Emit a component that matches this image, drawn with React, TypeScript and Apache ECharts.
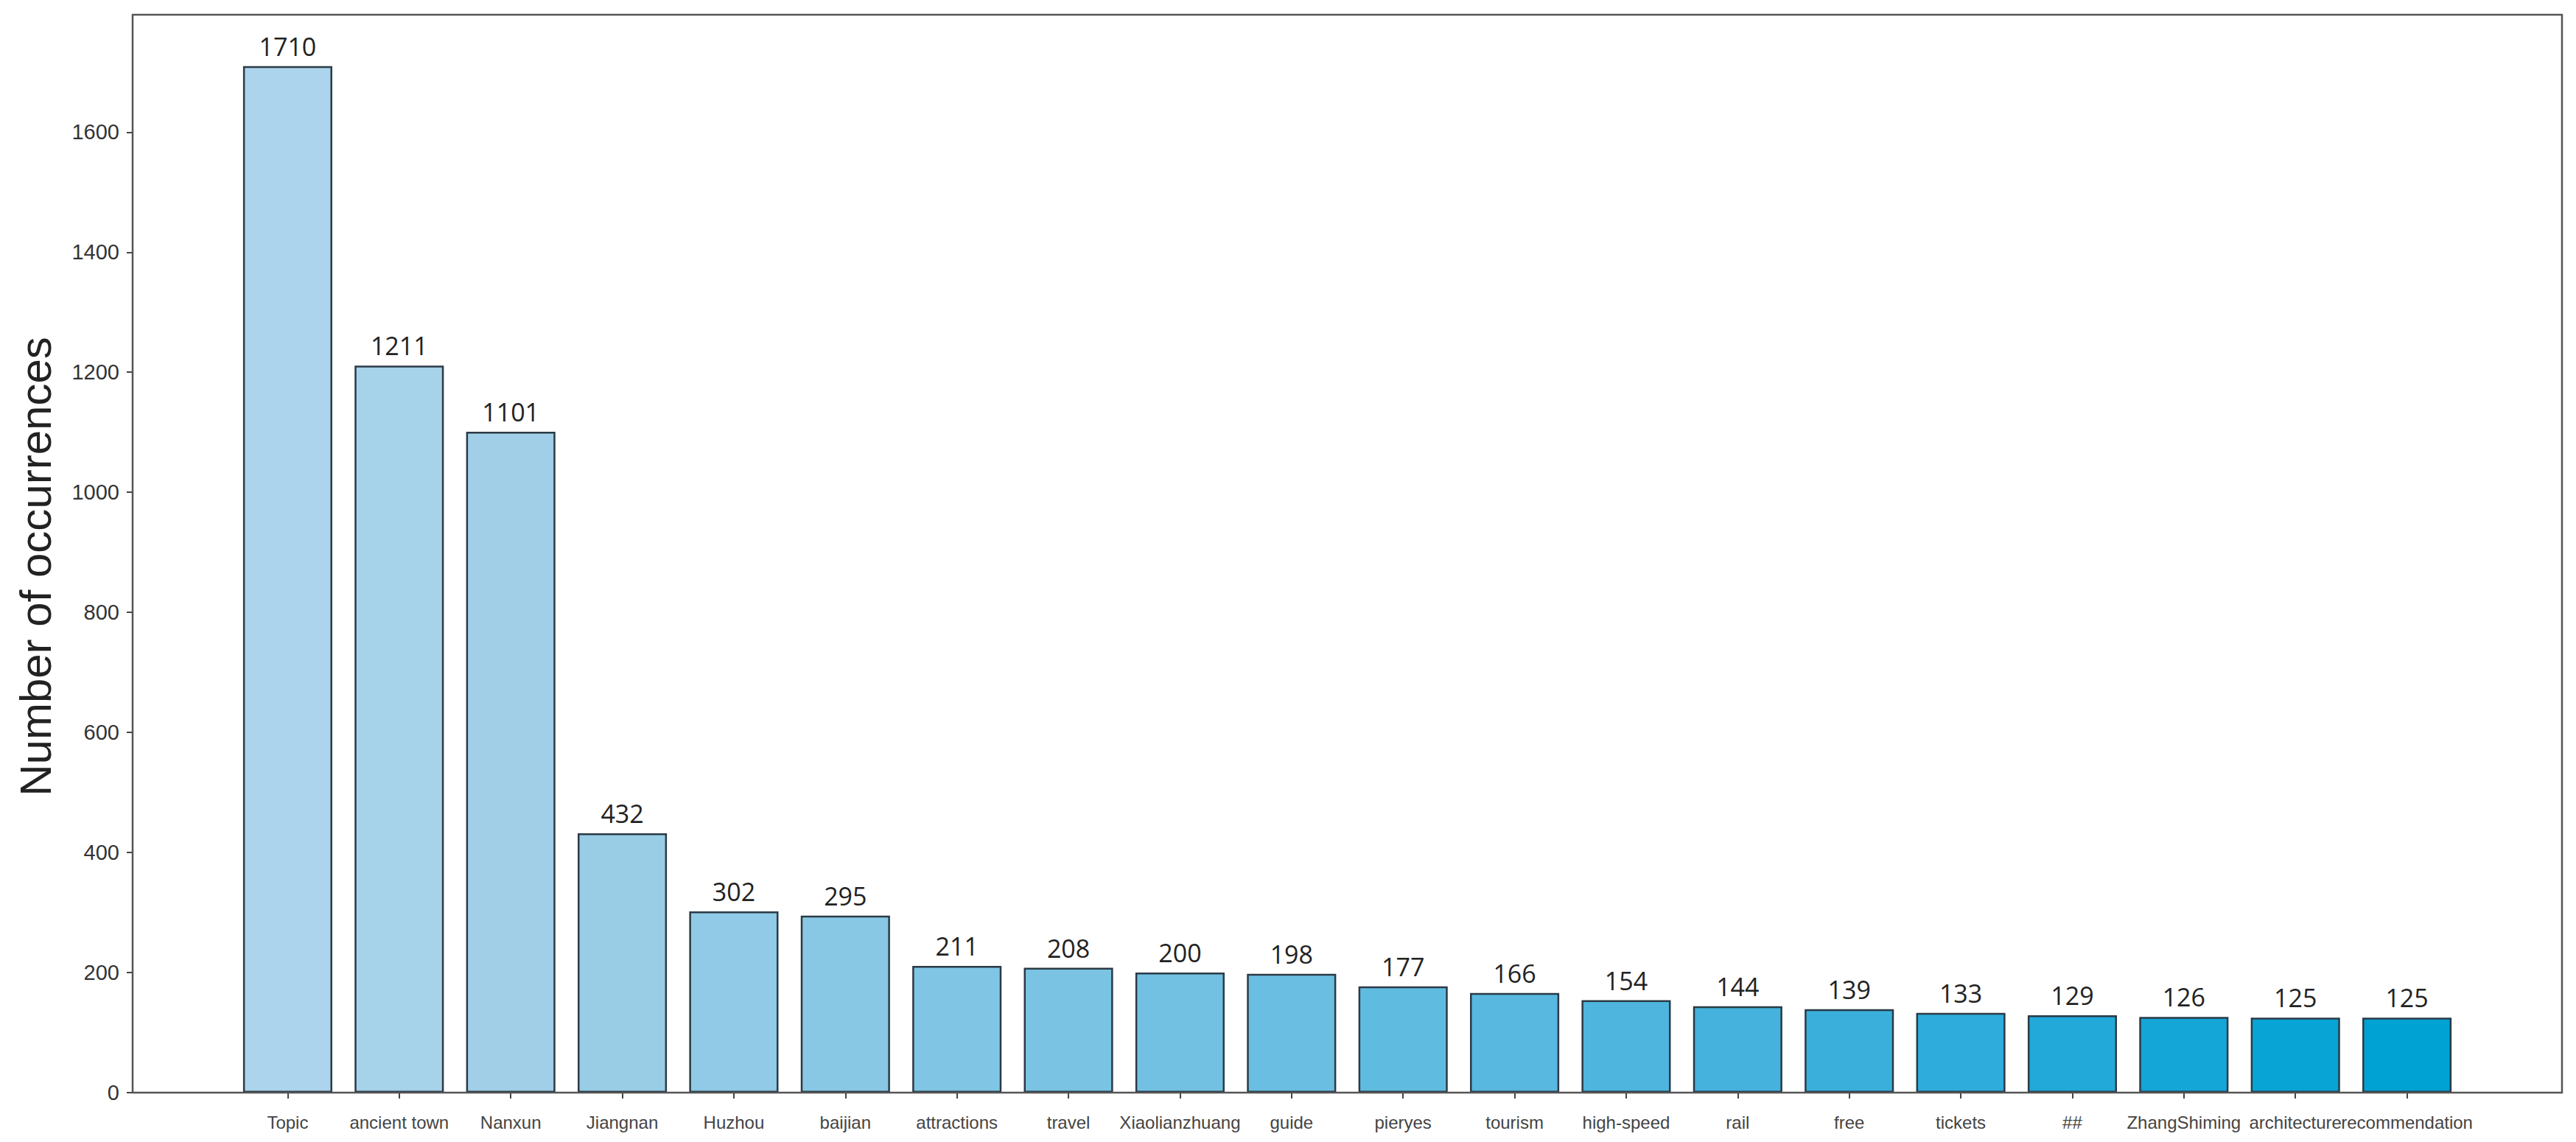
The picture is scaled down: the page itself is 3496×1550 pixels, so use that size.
import React, { useEffect, useRef } from "react";
import * as echarts from "echarts";

const categories = [
  "Topic", "ancient town", "Nanxun", "Jiangnan", "Huzhou", "baijian", "attractions",
  "travel", "Xiaolianzhuang", "guide", "pieryes", "tourism", "high-speed", "rail",
  "free", "tickets", "##", "ZhangShiming", "architecture", "recommendation",
];
const counts = [1710, 1211, 1101, 432, 302, 295, 211, 208, 200, 198, 177, 166, 154, 144, 139, 133, 129, 126, 125, 125];
const barColors = [
  "#acd4ec", "#a6d2ea", "#a0cfe7", "#98cde5", "#90cae6", "#88c8e5", "#80c5e4",
  "#7ac3e3", "#72c1e2", "#6abee1", "#60bbe0", "#58b8df", "#4db5de", "#44b2dd",
  "#3aafdc", "#2eacdb", "#22a9da", "#15a6d8", "#08a4d6", "#00a2d4",
];
const yTicks = [0, 200, 400, 600, 800, 1000, 1200, 1400, 1600];
const yTitle = "Number of occurrences";
const yMax = 1795.5;

// layout (pixels)
const W = 3496;
const H = 1550;
const frameLeft = 180;
const frameRight = 3477;
const frameTop = 20;
const frameBottom = 1483;
// matplotlib-like x limits around the bar slots
const xLo = -1.39;
const xHi = 20.39;
const unit = (frameRight - frameLeft) / (xHi - xLo);
const catLeft = frameLeft + (-0.5 - xLo) * unit;
const catRight = frameLeft + (categories.length - 0.5 - xLo) * unit;

export default function App() {
  const ref = useRef<HTMLDivElement>(null);
  useEffect(() => {
    if (!ref.current) return;
    const chart = echarts.init(ref.current, undefined, { renderer: "svg" });
    const tickStyle = { color: "#444", width: 2 };
    chart.setOption({
      animation: false,
      backgroundColor: "#ffffff",
      grid: [
        {
          left: frameLeft,
          top: frameTop,
          width: frameRight - frameLeft,
          height: frameBottom - frameTop,
          show: true,
          borderColor: "#555",
          borderWidth: 2.5,
          backgroundColor: "transparent",
          z: 3,
        },
        {
          left: catLeft,
          top: frameTop,
          width: catRight - catLeft,
          height: frameBottom - frameTop,
        },
      ],
      xAxis: [
        { gridIndex: 0, type: "value", min: 0, max: 1, show: false },
        {
          gridIndex: 1,
          type: "category",
          data: categories,
          axisLine: { show: false },
          axisTick: { show: true, alignWithLabel: true, length: 8, lineStyle: tickStyle },
          axisLabel: {
            interval: 0,
            margin: 28,
            fontSize: 24,
            fontFamily: "Liberation Sans",
            color: "#444",
          },
          splitLine: { show: false },
        },
      ],
      yAxis: [
        {
          gridIndex: 0,
          type: "value",
          min: 0,
          max: yMax,
          axisLine: { show: false },
          splitLine: { show: false },
          axisTick: { show: true, length: 8, customValues: yTicks, lineStyle: tickStyle },
          axisLabel: {
            customValues: yTicks,
            formatter: (v: number) => String(v),
            margin: 18,
            fontSize: 29,
            fontFamily: "Liberation Sans",
            color: "#333",
          },
        },
        { gridIndex: 1, type: "value", min: 0, max: yMax, show: false },
      ],
      graphic: [
        {
          type: "text",
          x: 48,
          y: 769,
          rotation: Math.PI / 2,
          style: {
            text: yTitle,
            fontSize: 60,
            fontFamily: "Liberation Sans",
            fill: "#222",
            align: "center",
            verticalAlign: "middle",
            textAlign: "center",
            textVerticalAlign: "middle",
          },
        },
      ],
      series: [
        {
          type: "bar",
          xAxisIndex: 1,
          yAxisIndex: 1,
          barWidth: "80%",
          data: counts.map((v, i) => ({ value: v, itemStyle: { color: barColors[i] } })),
          itemStyle: { borderColor: "#2b3a46", borderWidth: 2.5 },
          label: {
            show: true,
            position: "top",
            distance: 10,
            fontSize: 34,
            fontFamily: "Open Sans",
            color: "#222",
          },
        },
      ],
    });
    return () => chart.dispose();
  }, []);
  return (
    <div
      ref={ref}
      style={{ position: "fixed", left: 0, top: 0, width: W, height: H, background: "#fff" }}
    />
  );
}
